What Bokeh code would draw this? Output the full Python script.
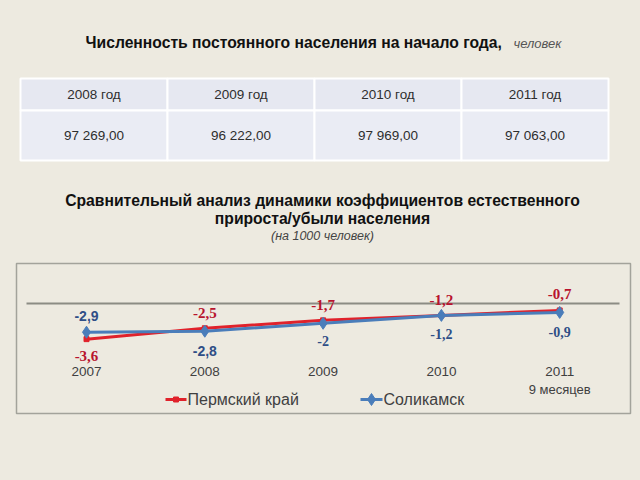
from bokeh.plotting import figure
from bokeh.models import Range1d, ColumnDataSource
from bokeh.core.properties import value
from bokeh.embed import file_html
from bokeh.resources import INLINE

# ---- data ----
years = [2007, 2008, 2009, 2010, 2011]
year_labels = ["2007", "2008", "2009", "2010", "2011"]
year_note = "9 месяцев"
perm = [-3.6, -2.5, -1.7, -1.2, -0.7]
solik = [-2.9, -2.8, -2.0, -1.2, -0.9]
perm_labels = ["-3,6", "-2,5", "-1,7", "-1,2", "-0,7"]
solik_labels = ["-2,9", "-2,8", "-2", "-1,2", "-0,9"]
series_names = ["Пермский край", "Соликамск"]
table_years = ["2008 год", "2009 год", "2010 год", "2011 год"]
table_values = ["97 269,00", "96 222,00", "97 969,00", "97 063,00"]

# ---- styles ----
BG = "#EDEAE0"
RED = "#E0222B"
BLUE = "#4A7DBA"
RED_TXT = "#B8142E"
BLUE_TXT = "#2F4E86"
perm_offsets = [17, -15, -15, -15, -16]
solik_offsets = [-16, 20, 18, 19, 20]
perm_fonts = ["Liberation Serif"] * 5
solik_fonts = ["Liberation Sans", "Liberation Sans", "Liberation Serif", "Liberation Serif", "Liberation Serif"]

W, H = 632, 472
p = figure(width=W, height=H, x_range=Range1d(0, W), y_range=Range1d(H, 0),
           output_backend="svg", toolbar_location=None, min_border=0,
           x_axis_location=None, y_axis_location=None)
p.grid.visible = False
p.outline_line_color = None
p.background_fill_color = BG
p.border_fill_color = BG

# chart scales (pixel layout of the plot area inside the canvas)
X0, DX, Y0, DY = 86.0, 118.3, 303.0, 9.9
p.extra_x_ranges = {"cx": Range1d(years[0] - X0 / DX, years[0] + (W - X0) / DX)}
p.extra_y_ranges = {"cy": Range1d(-(H - Y0) / DY, Y0 / DY)}

# ---- title 1 ----
p.text(x=[85], y=[42], text=["Численность постоянного населения на начало года,"],
       text_font=value("Liberation Sans"), text_font_style="bold", text_font_size="15.7px",
       text_color="#111111", text_baseline="middle", text_align="left")
p.text(x=[513], y=[43], text=["человек"], text_font=value("Liberation Sans"),
       text_font_style="italic", text_font_size="13px", text_color="#555555",
       text_baseline="middle", text_align="left")

# ---- table ----
n = len(table_years)
tl, tr = 20, 608
cw = (tr - tl) / n
lefts = [tl + i * cw for i in range(n)]
rights = [tl + (i + 1) * cw for i in range(n)]
centers = [tl + (i + 0.5) * cw for i in range(n)]
p.quad(left=lefts, right=rights, top=[78] * n, bottom=[110] * n,
       fill_color="#E6E8F1", line_color="white", line_width=2)
p.quad(left=lefts, right=rights, top=[110] * n, bottom=[160] * n,
       fill_color="#EAECF4", line_color="white", line_width=2)
p.text(x=centers, y=[94] * n, text=table_years, text_font=value("Liberation Sans"),
       text_font_size="13.5px", text_color="#2E2E2E", text_align="center", text_baseline="middle")
p.text(x=centers, y=[135] * n, text=table_values, text_font=value("Liberation Sans"),
       text_font_size="13.5px", text_color="#2E2E2E", text_align="center", text_baseline="middle")

# ---- title 2 ----
p.text(x=[322, 322], y=[200, 218],
       text=["Сравнительный анализ динамики коэффициентов естественного", "прироста/убыли населения"],
       text_font=value("Liberation Sans"), text_font_style="bold", text_font_size="15.7px",
       text_color="#111111", text_align="center", text_baseline="middle")
p.text(x=[322], y=[235], text=["(на 1000 человек)"], text_font=value("Liberation Sans"),
       text_font_style="italic", text_font_size="12.5px", text_color="#444444",
       text_align="center", text_baseline="middle")

# ---- chart box ----
p.quad(left=[16], right=[630], top=[263], bottom=[413], fill_color=None,
       line_color="#A3A39B", line_width=1.5)
# category axis line at 0
p.segment(x0=[26], x1=[619], y0=[0], y1=[0], y_range_name="cy",
          line_color="#8C8C84", line_width=2)

# series
p.line(years, perm, x_range_name="cx", y_range_name="cy", line_color=RED, line_width=3)
p.scatter(years, perm, x_range_name="cx", y_range_name="cy", marker="square", size=5,
          fill_color=RED, line_color=RED)
p.line(years, solik, x_range_name="cx", y_range_name="cy", line_color=BLUE, line_width=3)
p.scatter(years, solik, x_range_name="cx", y_range_name="cy", marker="diamond", size=12,
          fill_color=BLUE, line_color=BLUE)

# data labels
src_p = ColumnDataSource(dict(x=years, y=perm, t=perm_labels, off=perm_offsets, f=perm_fonts))
p.text(x="x", y="y", text="t", y_offset="off", text_font="f", source=src_p,
       x_range_name="cx", y_range_name="cy", text_font_size="15px", text_font_style="bold",
       text_color=RED_TXT, text_align="center", text_baseline="middle")
src_s = ColumnDataSource(dict(x=years, y=solik, t=solik_labels, off=solik_offsets, f=solik_fonts))
p.text(x="x", y="y", text="t", y_offset="off", text_font="f", source=src_s,
       x_range_name="cx", y_range_name="cy", text_font_size="14px", text_font_style="bold",
       text_color=BLUE_TXT, text_align="center", text_baseline="middle")

# category labels
p.text(x=years, y=[371] * len(years), text=year_labels, x_range_name="cx",
       text_font=value("Liberation Sans"), text_font_size="13.5px", text_color="#404040",
       text_align="center", text_baseline="middle")
p.text(x=[years[-1]], y=[389], text=[year_note], x_range_name="cx",
       text_font=value("Liberation Sans"), text_font_size="13px", text_color="#404040",
       text_align="center", text_baseline="middle")

# legend
p.segment(x0=[165], x1=[186], y0=[399], y1=[399], line_color=RED, line_width=3)
p.scatter([175.5], [399], marker="square", size=5, fill_color=RED, line_color=RED)
p.text(x=[187], y=[399], text=[series_names[0]], text_font=value("Liberation Sans"),
       text_font_size="16px", text_color="#404040", text_baseline="middle", text_align="left")
p.segment(x0=[360], x1=[382], y0=[399], y1=[399], line_color=BLUE, line_width=3)
p.scatter([371], [399], marker="diamond", size=12, fill_color=BLUE, line_color=BLUE)
p.text(x=[383], y=[399], text=[series_names[1]], text_font=value("Liberation Sans"),
       text_font_size="16px", text_color="#404040", text_baseline="middle", text_align="left")

html = file_html(p, INLINE)
html = html.replace("</head>", "<style>body{background:%s;}</style></head>" % BG, 1)
open("out.html", "w").write(html)
